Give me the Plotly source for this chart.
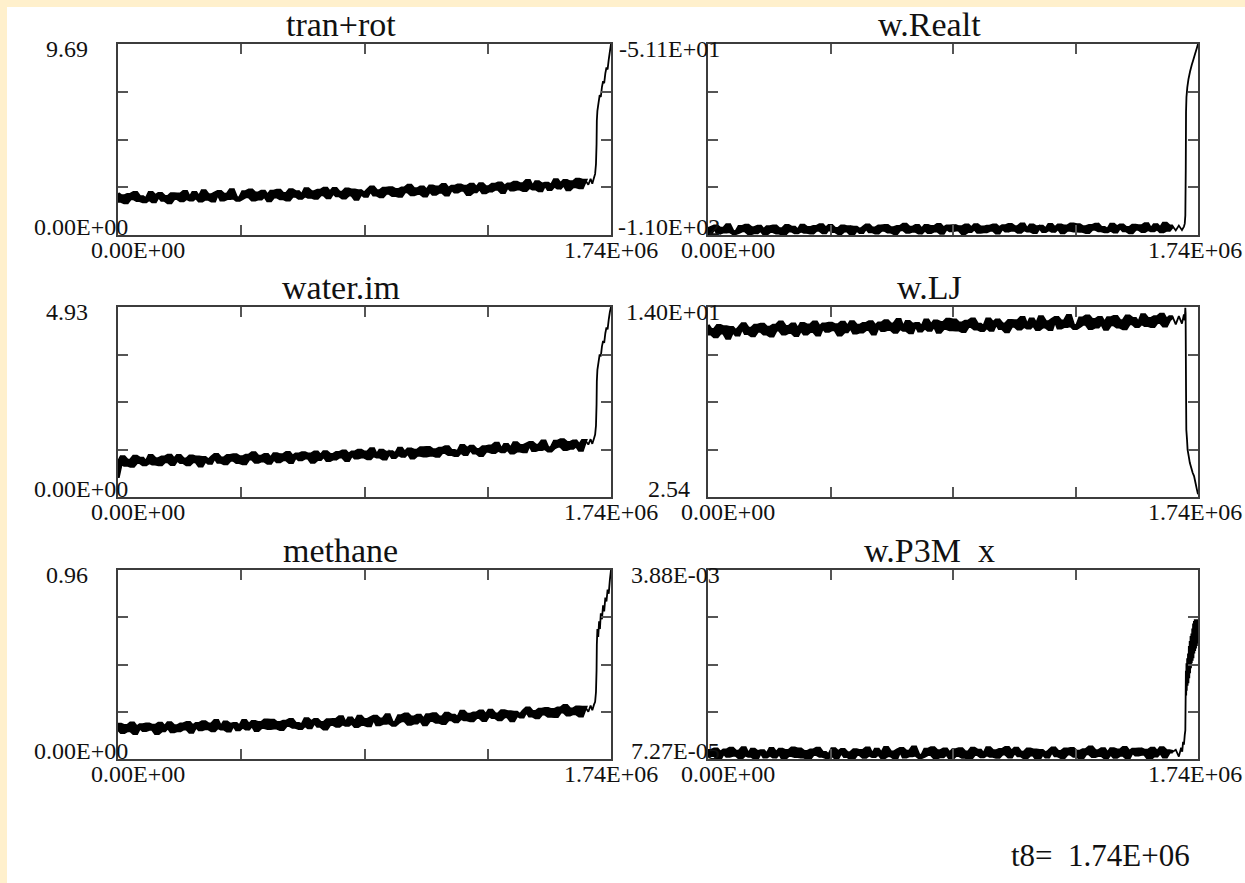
import plotly.graph_objects as go

# ---------------- data ----------------
T_MAX = 1.74e6
# sample times of the recorded signal (every 11 000 steps up to 1.65E+06)
T_RAW = [i * 11000 for i in range(151)]

TITLES = ["tran+rot", "w.Realt", "water.im", "w.LJ", "methane", "w.P3M\u00a0\u00a0x"]
Y_MIN = [0.0, -110.0, 0.0, 2.54, 0.0, 7.27e-5]
Y_MAX = [9.69, -51.1, 4.93, 14.0, 0.96, 3.88e-3]
Y_MAX_LABELS = ["9.69", "-5.11E+01", "4.93", "1.40E+01", "0.96", "3.88E-03"]
Y_MIN_LABELS = ["0.00E+00", "-1.10E+02", "0.00E+00", "2.54", "0.00E+00", "7.27E-05"]
X_MIN_LABEL = "0.00E+00"
X_MAX_LABEL = "1.74E+06"
FOOTER = "t8=\u00a0 1.74E+06"

# --- tran+rot
tranrot_raw = [
    2.10, 1.72, 1.98, 1.65, 2.05, 1.85, 2.14, 1.76, 1.93, 1.70,
    1.82, 2.14, 1.70, 1.98, 2.10, 1.77, 1.94, 1.64, 2.08, 1.86,
    2.07, 1.75, 2.20, 1.87, 1.79, 2.14, 1.92, 1.73, 2.23, 1.83,
    2.03, 1.74, 2.12, 2.20, 1.79, 2.06, 1.86, 2.28, 1.89, 1.77,
    1.86, 2.19, 1.95, 2.27, 1.78, 2.12, 1.84, 2.21, 1.99, 1.75,
    2.21, 1.94, 2.26, 1.85, 2.09, 1.78, 2.28, 1.98, 2.18, 1.87,
    2.01, 2.34, 1.93, 2.19, 1.88, 2.26, 2.05, 2.36, 1.90, 2.15,
    2.35, 2.00, 2.16, 1.89, 2.32, 2.04, 2.27, 1.83, 2.24, 2.11,
    1.98, 2.27, 2.42, 2.04, 2.24, 1.95, 2.36, 2.13, 2.39, 2.02,
    2.30, 1.97, 2.38, 2.20, 2.51, 2.05, 2.33, 2.11, 2.43, 1.99,
    2.25, 2.48, 2.08, 2.42, 2.18, 2.55, 2.04, 2.34, 2.46, 2.19,
    2.53, 2.28, 2.46, 2.07, 2.57, 2.20, 2.38, 2.59, 2.15, 2.44,
    2.24, 2.56, 2.33, 2.63, 2.16, 2.46, 2.58, 2.29, 2.67, 2.34,
    2.59, 2.27, 2.76, 2.43, 2.35, 2.69, 2.25, 2.57, 2.61, 2.32,
    2.50, 2.79, 2.39, 2.58, 2.75, 2.31, 2.69, 2.46, 2.82, 2.41,
    2.77]
tranrot_tail_t = [1660000, 1668000, 1674000, 1680000, 1684000, 1687000, 1689000, 1690000, 1692000,
                  1696000, 1700000, 1704000, 1708000, 1712000, 1716000, 1720000, 1724000, 1728000,
                  1732000, 1736000, 1740000]
tranrot_tail_v = [2.55, 2.85, 2.60, 2.90, 3.1, 3.6, 4.6, 5.8, 6.3, 6.7, 7.1, 7.0, 7.5, 7.8, 7.7,
                  8.2, 8.5, 8.4, 8.9, 9.3, 9.69]

# --- w.Realt
wrealt_raw = [
    -108.15, -109.60, -107.70, -107.30, -109.35, -108.00, -109.00, -106.90, -108.85, -109.45,
    -109.11, -107.46, -108.66, -107.06, -109.51, -107.81, -109.21, -107.36, -108.46, -109.66,
    -107.52, -108.87, -107.27, -109.32, -108.12, -109.67, -107.17, -108.67, -107.67, -109.22,
    -108.68, -107.03, -109.08, -107.78, -109.33, -107.43, -108.48, -106.93, -109.23, -107.98,
    -107.14, -108.89, -108.09, -109.44, -107.29, -108.69, -107.54, -109.74, -107.69, -108.34,
    -109.20, -107.75, -107.00, -108.90, -107.90, -109.35, -107.30, -108.45, -107.15, -109.00,
    -107.81, -109.46, -107.41, -108.31, -106.76, -109.06, -107.66, -108.76, -107.16, -109.36,
    -108.32, -107.17, -109.17, -107.47, -108.67, -106.82, -109.37, -107.87, -107.27, -108.62,
    -107.18, -108.43, -107.53, -109.48, -106.98, -108.83, -107.93, -106.88, -109.08, -107.63,
    -108.94, -107.34, -108.49, -106.99, -109.34, -107.84, -107.24, -108.69, -106.79, -108.44,
    -107.50, -109.10, -106.65, -108.30, -108.70, -107.00, -109.20, -107.60, -107.40, -108.85,
    -108.26, -106.81, -108.81, -107.86, -107.01, -109.21, -107.31, -108.46, -106.66, -108.71,
    -106.92, -108.82, -107.52, -109.17, -107.17, -108.17, -106.72, -108.62, -107.77, -108.92,
    -108.38, -106.78, -108.98, -107.58, -106.98, -108.63, -107.78, -109.28, -107.08, -108.18,
    -107.24, -108.84, -106.59, -108.24, -108.64, -106.89, -107.99, -108.94, -106.44, -108.44,
    -107.30]
wrealt_tail_t = [1661000, 1672000, 1683000, 1690000, 1693000, 1695000, 1696500, 1697500, 1699000,
                 1702000, 1706000, 1712000, 1718000, 1724000, 1730000, 1736000, 1740000]
wrealt_tail_v = [-108.6, -107.1, -108.5, -107.4, -106.5, -104.0, -90.0, -72.0, -67.5, -64.5,
                 -62.0, -59.5, -57.5, -55.8, -54.0, -52.3, -51.1]

# --- water.im
waterim_raw = [
    0.50, 0.88, 1.04, 0.83, 0.95, 0.80, 1.05, 0.90, 1.00, 0.84,
    0.90, 1.07, 0.86, 0.99, 0.84, 1.03, 0.92, 1.08, 0.85, 0.97,
    1.07, 0.90, 0.98, 0.84, 1.06, 0.92, 1.03, 0.81, 1.02, 0.95,
    0.88, 1.03, 1.10, 0.91, 1.01, 0.87, 1.07, 0.96, 1.09, 0.90,
    1.04, 0.87, 1.08, 0.99, 1.14, 0.91, 1.05, 0.94, 1.10, 0.88,
    1.00, 1.12, 0.92, 1.09, 0.97, 1.15, 0.90, 1.05, 1.11, 0.97,
    1.14, 1.02, 1.11, 0.91, 1.16, 0.98, 1.07, 1.17, 0.95, 1.10,
    0.99, 1.15, 1.04, 1.19, 0.95, 1.10, 1.16, 1.02, 1.21, 1.04,
    1.16, 1.00, 1.25, 1.08, 1.04, 1.21, 0.99, 1.15, 1.17, 1.03,
    1.11, 1.26, 1.06, 1.15, 1.24, 1.02, 1.21, 1.09, 1.27, 1.07,
    1.28, 1.09, 1.22, 1.06, 1.26, 1.16, 1.30, 1.11, 1.20, 1.08,
    1.17, 1.33, 1.11, 1.25, 1.31, 1.15, 1.23, 1.08, 1.30, 1.19,
    1.32, 1.16, 1.39, 1.22, 1.18, 1.36, 1.25, 1.15, 1.40, 1.20,
    1.33, 1.18, 1.37, 1.41, 1.21, 1.34, 1.24, 1.45, 1.26, 1.20,
    1.28, 1.44, 1.32, 1.48, 1.24, 1.41, 1.27, 1.45, 1.34, 1.22,
    1.46]
waterim_tail_t = [1660000, 1668000, 1674000, 1680000, 1684000, 1687000, 1689000, 1690000, 1692000,
                  1696000, 1700000, 1704000, 1708000, 1712000, 1716000, 1720000, 1724000, 1728000,
                  1732000, 1736000, 1740000]
waterim_tail_v = [1.36, 1.50, 1.38, 1.52, 1.62, 1.85, 2.4, 3.0, 3.3, 3.5, 3.7, 3.65, 3.9, 4.05,
                  4.0, 4.25, 4.4, 4.35, 4.6, 4.8, 4.93]

# --- w.LJ
wlj_raw = [
    12.91, 12.39, 12.63, 12.22, 12.87, 12.45, 12.79, 12.13, 12.75, 12.55,
    12.32, 12.76, 12.98, 12.41, 12.71, 12.28, 12.89, 12.55, 12.94, 12.38,
    12.77, 12.27, 12.89, 12.62, 13.08, 12.39, 12.81, 12.48, 12.96, 12.30,
    12.64, 12.99, 12.39, 12.90, 12.54, 13.09, 12.33, 12.78, 12.96, 12.55,
    13.01, 12.64, 12.91, 12.32, 13.07, 12.52, 12.79, 13.10, 12.44, 12.88,
    12.51, 12.99, 12.65, 13.10, 12.39, 12.84, 13.02, 12.59, 13.16, 12.66,
    12.97, 12.49, 13.23, 12.73, 12.61, 13.12, 12.46, 12.94, 13.00, 12.57,
    12.77, 13.21, 12.61, 12.89, 13.15, 12.49, 13.06, 12.71, 13.25, 12.64,
    13.20, 12.63, 13.02, 12.53, 13.13, 12.83, 13.26, 12.69, 12.95, 12.60,
    12.79, 13.27, 12.61, 13.03, 13.21, 12.72, 12.97, 12.52, 13.18, 12.85,
    13.16, 12.68, 13.36, 12.86, 12.74, 13.27, 12.94, 12.65, 13.40, 12.80,
    13.10, 12.66, 13.23, 13.35, 12.74, 13.14, 12.84, 13.47, 12.89, 12.71,
    12.84, 13.33, 12.97, 13.45, 12.72, 13.23, 12.81, 13.36, 13.03, 12.67,
    13.34, 12.94, 13.42, 12.80, 13.16, 12.70, 13.45, 13.00, 13.30, 12.83,
    13.02, 13.52, 12.90, 13.29, 12.83, 13.40, 13.08, 13.55, 12.86, 13.23,
    13.40]
wlj_tail_t = [1661000, 1672000, 1683000, 1690000, 1693000, 1695000, 1696000, 1697500, 1698500,
              1701000, 1703000, 1707000, 1711000, 1716000, 1721000, 1726000, 1731000, 1736000,
              1740000]
wlj_tail_v = [12.95, 13.45, 13.00, 13.55, 13.20, 13.95, 13.60, 9.0, 6.6, 6.0, 5.4, 5.0, 4.6, 4.3,
              4.0, 3.8, 3.4, 3.0, 2.7]

# --- methane
methane_raw = [
    0.152, 0.175, 0.135, 0.169, 0.145, 0.182, 0.131, 0.161, 0.173, 0.146,
    0.177, 0.152, 0.170, 0.131, 0.181, 0.144, 0.162, 0.183, 0.139, 0.168,
    0.145, 0.177, 0.154, 0.184, 0.137, 0.167, 0.179, 0.150, 0.188, 0.155,
    0.177, 0.145, 0.194, 0.161, 0.153, 0.187, 0.143, 0.175, 0.179, 0.150,
    0.165, 0.194, 0.154, 0.173, 0.190, 0.146, 0.184, 0.161, 0.197, 0.156,
    0.196, 0.158, 0.184, 0.151, 0.191, 0.171, 0.200, 0.162, 0.179, 0.156,
    0.172, 0.204, 0.160, 0.188, 0.200, 0.167, 0.184, 0.154, 0.198, 0.176,
    0.200, 0.168, 0.213, 0.180, 0.172, 0.207, 0.185, 0.166, 0.216, 0.176,
    0.199, 0.170, 0.208, 0.216, 0.175, 0.202, 0.182, 0.224, 0.185, 0.173,
    0.186, 0.219, 0.195, 0.227, 0.178, 0.212, 0.184, 0.221, 0.199, 0.175,
    0.224, 0.197, 0.229, 0.188, 0.212, 0.181, 0.231, 0.201, 0.221, 0.190,
    0.208, 0.241, 0.200, 0.226, 0.195, 0.233, 0.212, 0.243, 0.197, 0.222,
    0.247, 0.212, 0.228, 0.201, 0.244, 0.216, 0.239, 0.195, 0.236, 0.223,
    0.214, 0.243, 0.258, 0.220, 0.240, 0.211, 0.252, 0.229, 0.255, 0.218,
    0.250, 0.217, 0.258, 0.240, 0.271, 0.225, 0.253, 0.231, 0.263, 0.219,
    0.262]
methane_tail_t = [1660000, 1668000, 1674000, 1680000, 1684000, 1687000, 1689000, 1690000, 1692000,
                  1695000, 1698000, 1701000, 1704000, 1708000, 1712000, 1716000, 1720000, 1724000,
                  1728000, 1732000, 1736000, 1740000]
methane_tail_v = [0.240, 0.272, 0.248, 0.276, 0.29, 0.34, 0.45, 0.58, 0.66, 0.62, 0.70, 0.66, 0.74,
                  0.71, 0.78, 0.75, 0.82, 0.80, 0.86, 0.84, 0.91, 0.96]

# --- w.P3M x
p3m_raw = [
    1.13e-4, 2.41e-4, 1.49e-4, 2.69e-4, 0.81e-4, 2.01e-4, 2.49e-4, 1.33e-4, 2.85e-4, 1.53e-4,
    2.26e-4, 0.98e-4, 2.94e-4, 1.62e-4, 1.30e-4, 2.66e-4, 0.90e-4, 2.18e-4, 2.34e-4, 1.18e-4,
    1.63e-4, 2.79e-4, 1.19e-4, 1.95e-4, 2.63e-4, 0.87e-4, 2.39e-4, 1.47e-4, 2.91e-4, 1.27e-4,
    2.68e-4, 1.16e-4, 2.20e-4, 0.88e-4, 2.48e-4, 1.68e-4, 2.84e-4, 1.32e-4, 2.00e-4, 1.08e-4,
    1.49e-4, 2.77e-4, 1.01e-4, 2.13e-4, 2.61e-4, 1.29e-4, 1.97e-4, 0.77e-4, 2.53e-4, 1.65e-4,
    2.38e-4, 1.10e-4, 2.90e-4, 1.58e-4, 1.26e-4, 2.66e-4, 1.78e-4, 1.02e-4, 3.02e-4, 1.42e-4,
    2.11e-4, 0.95e-4, 2.47e-4, 2.79e-4, 1.15e-4, 2.23e-4, 1.43e-4, 3.11e-4, 1.55e-4, 1.07e-4,
    1.32e-4, 2.64e-4, 1.68e-4, 2.96e-4, 1.00e-4, 2.36e-4, 1.24e-4, 2.72e-4, 1.84e-4, 0.88e-4,
    2.57e-4, 1.49e-4, 2.77e-4, 1.13e-4, 2.09e-4, 0.85e-4, 2.85e-4, 1.65e-4, 2.45e-4, 1.21e-4,
    1.62e-4, 2.94e-4, 1.30e-4, 2.34e-4, 1.10e-4, 2.62e-4, 1.78e-4, 3.02e-4, 1.18e-4, 2.18e-4,
    2.83e-4, 1.43e-4, 2.07e-4, 0.99e-4, 2.71e-4, 1.59e-4, 2.51e-4, 0.75e-4, 2.39e-4, 1.87e-4,
    1.16e-4, 2.32e-4, 2.92e-4, 1.40e-4, 2.20e-4, 1.04e-4, 2.68e-4, 1.76e-4, 2.80e-4, 1.32e-4,
    2.25e-4, 0.93e-4, 2.57e-4, 1.85e-4, 3.09e-4, 1.25e-4, 2.37e-4, 1.49e-4, 2.77e-4, 1.01e-4,
    1.82e-4, 2.74e-4, 1.14e-4, 2.50e-4, 1.54e-4, 3.02e-4, 0.98e-4, 2.18e-4, 2.66e-4, 1.58e-4,
    2.71e-4, 1.71e-4, 2.43e-4, 0.87e-4, 2.87e-4, 1.39e-4, 2.11e-4, 2.95e-4, 1.19e-4, 2.35e-4,
    2.20e-4]
p3m_tail_t = [1661000, 1672000, 1680000, 1684000, 1687000, 1690000, 1693000, 1695000, 1696000,
              1697000, 1698000, 1699000, 1700000, 1701500, 1703000, 1704500, 1706000, 1707500,
              1709000, 1710500, 1712000, 1713500, 1715000, 1716500, 1718000, 1719500, 1721000,
              1722500, 1724000, 1725500, 1727000, 1728500, 1730000, 1731500, 1733000, 1734500,
              1736000, 1737500, 1739000, 1740000]
p3m_tail_v = [2.6e-4, 1.2e-4, 3.0e-4, 2.2e-4, 4.2e-4, 3.6e-4, 5.6e-4, 6.5e-4, 1.25e-3, 1.85e-3,
              1.35e-3, 2.0e-3, 1.45e-3, 2.1e-3, 1.55e-3, 2.2e-3, 1.6e-3, 2.35e-3, 1.7e-3, 2.45e-3,
              1.8e-3, 2.55e-3, 1.9e-3, 2.6e-3, 2.0e-3, 2.7e-3, 2.05e-3, 2.8e-3, 2.1e-3, 2.85e-3,
              2.2e-3, 2.89e-3, 2.25e-3, 2.85e-3, 2.3e-3, 2.89e-3, 2.35e-3, 2.85e-3, 2.4e-3, 2.89e-3]

PANELS = [
    (tranrot_raw, tranrot_tail_t, tranrot_tail_v),
    (wrealt_raw, wrealt_tail_t, wrealt_tail_v),
    (waterim_raw, waterim_tail_t, waterim_tail_v),
    (wlj_raw, wlj_tail_t, wlj_tail_v),
    (methane_raw, methane_tail_t, methane_tail_v),
    (p3m_raw, p3m_tail_t, p3m_tail_v),
]

# ---------------- layout ----------------
W, H = 1245, 883
SERIF = "Liberation Serif, Times New Roman, serif"
INK = "#111111"
FRAME = "#3c3c3c"
COL_X = [(118, 611), (708, 1198)]
ROW_Y = [(44, 235), (307, 497), (570, 759)]

fig = go.Figure()
annotations = []
layout = {}

for k, (raw, tt, tv) in enumerate(PANELS):
    n = k + 1
    xa = "x" if n == 1 else f"x{n}"
    ya = "y" if n == 1 else f"y{n}"
    col, row = k % 2, k // 2
    x0, x1 = COL_X[col]
    top, bot = ROW_Y[row]
    ymin, ymax = Y_MIN[k], Y_MAX[k]
    span = ymax - ymin
    m = min(len(raw), len(T_RAW))
    t = T_RAW[:m]
    v = raw[:m]

    # the fast fluctuations are unresolved at this scale: shade the extent swept by
    # each pair of consecutive samples (thick outline = trace pen), then the samples
    hi = [max(v[i], v[min(i + 1, m - 1)]) for i in range(m)]
    lo = [min(v[i], v[min(i + 1, m - 1)]) for i in range(m)]
    fig.add_trace(go.Scatter(
        x=t + t[::-1], y=hi + lo[::-1], xaxis=xa, yaxis=ya, mode="lines",
        fill="toself", fillcolor="#000000",
        line=dict(color="#000000", width=3.4, simplify=False),
        hoverinfo="skip", showlegend=False))
    fig.add_trace(go.Scatter(
        x=t + tt, y=v + tv, xaxis=xa, yaxis=ya, mode="lines",
        line=dict(color="#000000", width=1.8, simplify=False),
        hoverinfo="skip", showlegend=False))

    xkey = "xaxis" if n == 1 else f"xaxis{n}"
    ykey = "yaxis" if n == 1 else f"yaxis{n}"
    layout[xkey] = dict(
        domain=[x0 / W, x1 / W], anchor=ya, range=[0, T_MAX],
        showline=True, linecolor=FRAME, linewidth=2, mirror="ticks",
        ticks="inside", ticklen=10, tickwidth=2, tickcolor="#555555",
        tickvals=[T_MAX * q for q in (0.25, 0.5, 0.75)], showticklabels=False,
        showgrid=False, zeroline=False, fixedrange=True)
    layout[ykey] = dict(
        domain=[1 - bot / H, 1 - top / H], anchor=xa, range=[ymin, ymax],
        showline=True, linecolor=FRAME, linewidth=2, mirror="ticks",
        ticks="inside", ticklen=10, tickwidth=2, tickcolor="#555555",
        tickvals=[ymin + span * q for q in (0.25, 0.5, 0.75)], showticklabels=False,
        showgrid=False, zeroline=False, fixedrange=True)

    dx = f"{xa} domain"
    dy = f"{ya} domain"
    annotations.append(dict(text=TITLES[k], xref=dx, yref=dy, x=0.5, y=1, xanchor="center",
                            yanchor="bottom", xshift=-24, yshift=-1, showarrow=False,
                            font=dict(family=SERIF, size=34, color=INK)))
    for lab, yv, ysh in ((Y_MAX_LABELS[k], ymax, -5), (Y_MIN_LABELS[k], ymin, 8)):
        if "E" in lab:
            xs = 12 if col == 0 else 14
        else:
            xs = -28 if col == 0 else -16
        annotations.append(dict(text=lab, xref=dx, yref=ya, x=0, y=yv, xanchor="right",
                                yanchor="middle", xshift=xs, yshift=ysh, showarrow=False,
                                font=dict(family=SERIF, size=24, color=INK)))
    annotations.append(dict(text=X_MIN_LABEL, xref=dx, yref=dy, x=0, y=0, xanchor="left",
                            yanchor="middle", xshift=-29, yshift=-15, showarrow=False,
                            font=dict(family=SERIF, size=24, color=INK)))
    annotations.append(dict(text=X_MAX_LABEL, xref=dx, yref=dy, x=1, y=0, xanchor="center",
                            yanchor="middle", xshift=(0 if col == 0 else -3), yshift=-15,
                            showarrow=False, font=dict(family=SERIF, size=24, color=INK)))

annotations.append(dict(text=FOOTER, xref="paper", yref="paper", x=1192 / W, y=1 - 855 / H,
                        xanchor="right", yanchor="middle", showarrow=False,
                        font=dict(family=SERIF, size=31, color=INK)))

fig.update_layout(
    width=W, height=H, margin=dict(l=0, r=0, t=0, b=0),
    paper_bgcolor="#FFF0CC", plot_bgcolor="#FFFFFF",
    showlegend=False, annotations=annotations,
    shapes=[dict(type="rect", xref="paper", yref="paper", x0=7 / W, x1=1.0, y0=0.0,
                 y1=1 - 7 / H, fillcolor="#FFFFFF", line=dict(width=0), layer="below")],
    **layout)

fig.write_html("out.html", config={"displayModeBar": False},
               post_script="document.body.style.margin='0px';document.body.style.overflow='hidden';")
